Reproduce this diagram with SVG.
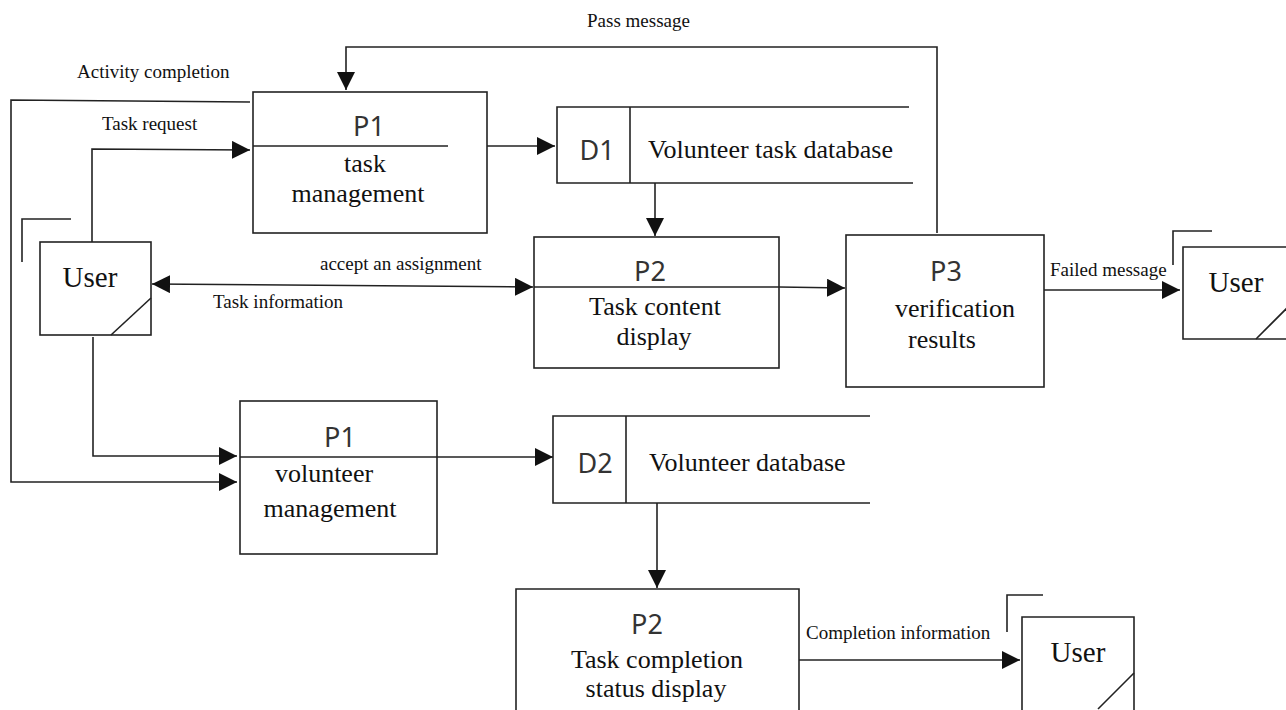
<svg xmlns="http://www.w3.org/2000/svg" width="1286" height="710" viewBox="0 0 1286 710">
<style>
.box{fill:#fff;stroke:#222;stroke-width:1.6}
.ln{fill:none;stroke:#222;stroke-width:1.6}
.pid{font-family:"Noto Sans","DejaVu Sans",sans-serif;font-size:27px;fill:#333;text-anchor:middle}
.nt{font-family:"Liberation Serif","Times New Roman",serif;font-size:26px;fill:#111;text-anchor:middle}
.dt{font-family:"Liberation Serif","Times New Roman",serif;font-size:26px;fill:#111}
.lb{font-family:"Liberation Serif","Times New Roman",serif;font-size:19px;fill:#111}
.us{font-family:"Liberation Serif","Times New Roman",serif;font-size:29px;fill:#111;text-anchor:middle}
</style>
<defs>
<marker id="ah" viewBox="0 0 18 18" refX="18" refY="9" markerWidth="18" markerHeight="18" markerUnits="userSpaceOnUse" orient="auto-start-reverse">
<path d="M0,0 L18,9 L0,18 Z" fill="#111"/>
</marker>
</defs>
<rect width="1286" height="710" fill="#fff"/>

<g id="connectors">
<polyline class="ln" points="937,233 937,47 346,47 346,90" marker-end="url(#ah)"/>
<polyline class="ln" points="250,102 11,100 11,482 237,482" marker-end="url(#ah)"/>
<polyline class="ln" points="92,242 92,149 250,150" marker-end="url(#ah)"/>
<line class="ln" x1="452" y1="146" x2="555" y2="146" marker-end="url(#ah)"/>
<line class="ln" x1="655" y1="183" x2="655" y2="236" marker-end="url(#ah)"/>
<line class="ln" x1="152" y1="284" x2="533" y2="287" marker-start="url(#ah)" marker-end="url(#ah)"/>
<line class="ln" x1="779" y1="287" x2="845" y2="288" marker-end="url(#ah)"/>
<line class="ln" x1="1043" y1="290" x2="1180" y2="290" marker-end="url(#ah)"/>
<polyline class="ln" points="93,337 93,456 237,456" marker-end="url(#ah)"/>
<line class="ln" x1="437" y1="457" x2="553" y2="457" marker-end="url(#ah)"/>
<line class="ln" x1="657" y1="503" x2="657" y2="588" marker-end="url(#ah)"/>
<line class="ln" x1="799" y1="660" x2="1020" y2="660" marker-end="url(#ah)"/>
<text class="lb" x="587" y="27">Pass message</text>
<text class="lb" x="77" y="78">Activity completion</text>
<text class="lb" x="102" y="130">Task request</text>
<text class="lb" x="320" y="270">accept an assignment</text>
<text class="lb" x="213" y="308">Task information</text>
<text class="lb" x="1050" y="276">Failed message</text>
<text class="lb" x="806" y="639">Completion information</text>
</g>

<g id="P1-task">
<rect class="box" x="253" y="92" width="234" height="141"/>
<line class="ln" x1="253" y1="146" x2="448" y2="146"/>
<text class="pid" x="369" y="136">P1</text>
<text class="nt" x="365" y="172">task</text>
<text class="nt" x="358" y="202">management</text>
</g>

<g id="D1">
<polyline class="ln" points="909,107 557,107 557,183 913,183"/>
<line class="ln" x1="630" y1="107" x2="630" y2="183"/>
<text class="pid" x="597" y="160">D1</text>
<text class="dt" x="648" y="158">Volunteer task database</text>
</g>

<g id="User1">
<polyline class="ln" points="71,219 22,219 22,262"/>
<rect class="box" x="40" y="242" width="111" height="93"/>
<line class="ln" x1="111" y1="335" x2="151" y2="298"/>
<text class="us" x="90" y="287">User</text>
</g>

<g id="P2-content">
<rect class="box" x="534" y="237" width="245" height="131"/>
<line class="ln" x1="534" y1="287" x2="779" y2="287"/>
<text class="pid" x="650" y="281">P2</text>
<text class="nt" x="655" y="315">Task content</text>
<text class="nt" x="654" y="345">display</text>
</g>

<g id="P3">
<rect class="box" x="846" y="235" width="198" height="152"/>
<text class="pid" x="946" y="281">P3</text>
<text class="nt" x="955" y="317">verification</text>
<text class="nt" x="942" y="348">results</text>
</g>

<g id="User2">
<polyline class="ln" points="1212,231 1173,231 1173,265"/>
<polyline class="box" points="1290,247 1183,247 1183,339 1290,339"/>
<line class="ln" x1="1256" y1="339" x2="1290" y2="305"/>
<text class="us" x="1236" y="292">User</text>
</g>

<g id="P1-volunteer">
<rect class="box" x="240" y="401" width="197" height="153"/>
<line class="ln" x1="240" y1="457" x2="437" y2="457"/>
<text class="pid" x="340" y="447">P1</text>
<text class="nt" x="324" y="482">volunteer</text>
<text class="nt" x="330" y="517">management</text>
</g>

<g id="D2">
<polyline class="ln" points="870,416 553,416 553,503 870,503"/>
<line class="ln" x1="626" y1="416" x2="626" y2="503"/>
<text class="pid" x="595" y="473">D2</text>
<text class="dt" x="649" y="471">Volunteer database</text>
</g>

<g id="P2-completion">
<polyline class="box" points="516,712 516,589 799,589 799,712"/>
<text class="pid" x="647" y="634">P2</text>
<text class="nt" x="657" y="668">Task completion</text>
<text class="nt" x="656" y="697">status display</text>
</g>

<g id="User3">
<polyline class="ln" points="1043,595 1007,595 1007,632"/>
<polyline class="box" points="1022,712 1022,617 1134,617 1134,712"/>
<line class="ln" x1="1134" y1="673" x2="1098" y2="709"/>
<text class="us" x="1078" y="662">User</text>
</g>
</svg>
